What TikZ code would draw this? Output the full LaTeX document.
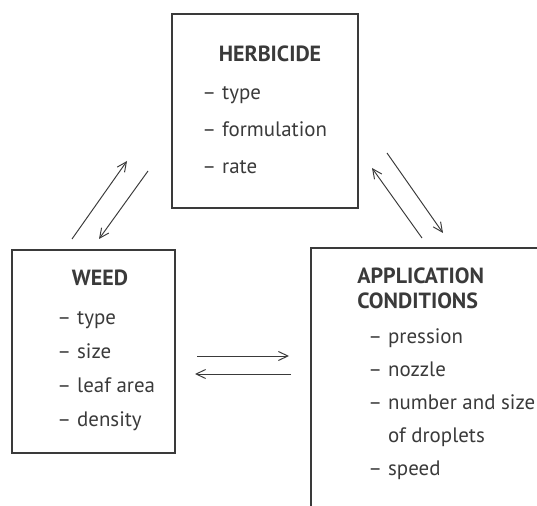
\documentclass[tikz,border=0pt]{standalone}
\usepackage{fontspec}
\setmainfont{PT Sans}
\usetikzlibrary{positioning, arrows.meta, calc}
\definecolor{ink}{HTML}{3A3A3A}
\newcommand{\itm}[1]{\makebox[11.3pt][l]{\textendash}#1}
\tikzset{
  box/.style={draw=ink, line width=0.7pt, inner sep=0pt, outer sep=0pt, anchor=north west},
  ttl/.style={text=ink, inner sep=0pt, font=\fontsize{12.5}{15}\selectfont\bfseries},
  item/.style={text=ink, inner sep=0pt, font=\fontsize{11.9}{14}\selectfont},
  arr/.style={-{Straight Barb[length=1.9mm, width=1.8mm]}, draw=ink, line width=0.55pt}
}

\begin{document}
\begin{tikzpicture}[x=0.02cm, y=-0.02cm]
\useasboundingbox (0,0) rectangle (537,506);
\clip (0,0) rectangle (537,506);
% boxes
\node[box, minimum width=3.72cm, minimum height=3.88cm] (herb) at (172,14) {};
\node[box, minimum width=3.26cm, minimum height=4.06cm] (weed) at (12,250) {};
\node[box, minimum width=5.6cm, minimum height=6.2cm] (appl) at (311,248) {};
% herbicide
\node[ttl, below=0.96cm of herb.north, anchor=base, xshift=0.1cm] (herbT) {HERBICIDE};
\node[item, below right=1.72cm and 0.6cm of herb.north west, anchor=base west] (h1) {\itm{type}};
\node[item, below=0.74cm of h1.base west, anchor=base west] (h2) {\itm{formulation}};
\node[item, below=0.74cm of h2.base west, anchor=base west] (h3) {\itm{rate}};
% weed
\node[ttl, below=0.72cm of weed.north, anchor=base, xshift=0.13cm] (weedT) {WEED};
\node[item, below right=1.5cm and 0.9cm of weed.north west, anchor=base west] (w1) {\itm{type}};
\node[item, below=0.68cm of w1.base west, anchor=base west] (w2) {\itm{size}};
\node[item, below=0.68cm of w2.base west, anchor=base west] (w3) {\itm{leaf area}};
\node[item, below=0.68cm of w3.base west, anchor=base west] (w4) {\itm{density}};
% application conditions
\node[ttl, below right=0.72cm and 0.92cm of appl.north west, anchor=base west] (applT) {APPLICATION};
\node[ttl, below=0.5cm of applT.base west, anchor=base west] (applT2) {CONDITIONS};
\node[item, below right=1.92cm and 1.14cm of appl.north west, anchor=base west] (a1) {\itm{pression}};
\node[item, below=0.66cm of a1.base west, anchor=base west] (a2) {\itm{nozzle}};
\node[item, below=0.66cm of a2.base west, anchor=base west] (a3) {\itm{number and size}};
\node[item, below=0.66cm of a3.base west, anchor=base west] (a4) {\hspace*{11.3pt}of droplets};
\node[item, below=0.66cm of a4.base west, anchor=base west] (a5) {\itm{speed}};
% arrow ends
\coordinate (wh0) at (72,239);  \coordinate (wh1) at (127,161);
\coordinate (hw0) at (148,171); \coordinate (hw1) at (99,239);
\coordinate (ah0) at (422,238); \coordinate (ah1) at (372,168);
\coordinate (ha0) at (387,153); \coordinate (ha1) at (443,233);
\coordinate (wa0) at (197,356); \coordinate (wa1) at (289,356);
\coordinate (aw0) at (291,374); \coordinate (aw1) at (195,374);
\draw[arr] (wh0) -- (wh1); \draw[arr] (hw0) -- (hw1);
\draw[arr] (ah0) -- (ah1); \draw[arr] (ha0) -- (ha1);
\draw[arr] (wa0) -- (wa1); \draw[arr] (aw0) -- (aw1);
\end{tikzpicture}
\end{document}
